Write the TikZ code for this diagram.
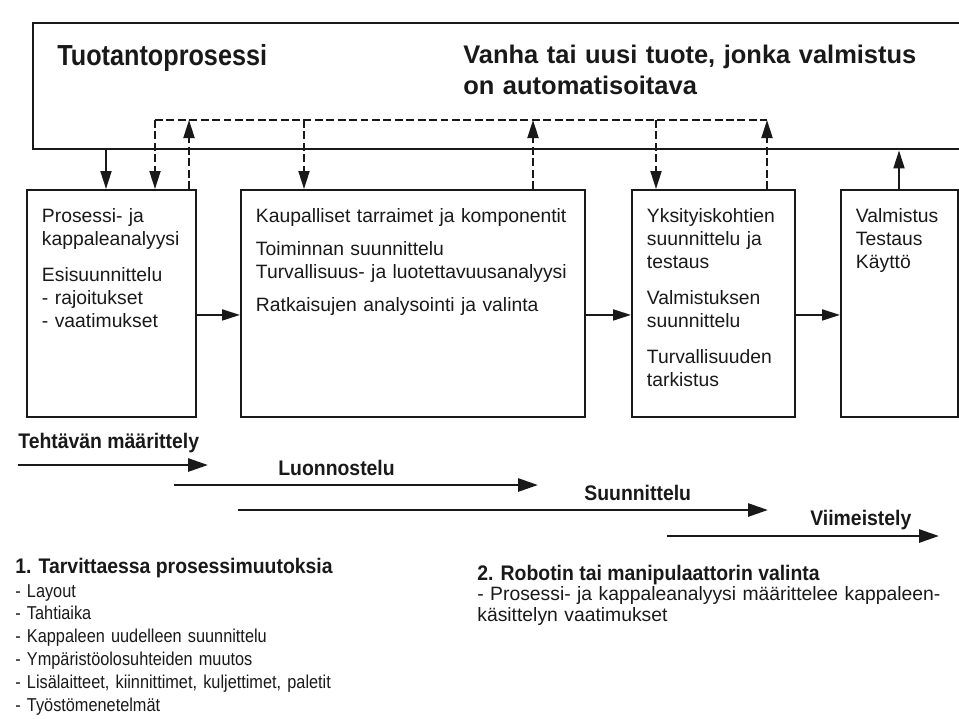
\documentclass[tikz,border=0pt]{standalone}
\usepackage{fontspec}
\setmainfont{Liberation Sans}
\newfontfamily\titlefam[FakeStretch=0.87]{Liberation Sans}
\newfontfamily\labelfam[FakeStretch=0.92]{Liberation Sans}
\newfontfamily\listfam[FakeStretch=0.875]{Liberation Sans}
\usepackage{tikz}
\usetikzlibrary{arrows.meta, positioning, calc}
\definecolor{ink}{RGB}{25,25,25}
\tikzset{
  procbox/.style={rectangle, draw=ink, line width=1.4pt,
    minimum width=19.16cm, minimum height=2.52cm, inner sep=0pt},
  stagebox/.style={rectangle, draw=ink, line width=1.1pt, align=left,
    inner xsep=0.3cm, inner ysep=0.36cm, text height=0.3cm, text depth=3.52cm,
    font=\fontsize{11}{13}\selectfont, text=ink},
  titlelbl/.style={font=\titlefam\bfseries\fontsize{16.5}{19}\selectfont,
    inner sep=0pt, text=ink},
  subjlbl/.style={font=\bfseries\fontsize{14.5}{17.6}\selectfont, align=left,
    text width=9.5cm, inner sep=0pt, text=ink},
  phaselbl/.style={font=\labelfam\bfseries\fontsize{12}{14}\selectfont,
    inner sep=0pt, text=ink},
  listtxt/.style={font=\listfam\fontsize{10.6}{13.04}\selectfont, align=left,
    text width=7cm, inner sep=0pt, text=ink},
  bodytxt/.style={font=\fontsize{11}{12.5}\selectfont, align=left,
    text width=9.6cm, inner sep=0pt, text=ink},
  arrow/.style={-{Triangle[length=3.6mm,width=2.2mm]}, line width=1.1pt, color=ink},
  dasharrow/.style={arrow, dash pattern=on 4.5pt off 2pt},
  dashline/.style={line width=1.1pt, color=ink, dash pattern=on 4.5pt off 2pt},
  phasearrow/.style={-{Triangle[length=4mm,width=2.6mm]}, line width=1.6pt, color=ink}
}
\begin{document}
\begin{tikzpicture}[x=0.02cm, y=-0.02cm]
  \useasboundingbox (0,0) rectangle (959,718);

  % production process (open to the right)
  \node[procbox, anchor=north west] (proc) at (32,22) {};
  \node[titlelbl, anchor=base west] (title) at (57,65) {Tuotantoprosessi};
  \node[subjlbl, anchor=base west] (subj) at (463,63.5)
    {Vanha tai uusi tuote, jonka valmistus\\on automatisoitava};

  % stages
  \node[stagebox, text width=2.78cm, anchor=north west] (s1) at (26,189)
    {Prosessi- ja\\kappaleanalyysi\\[0.26cm]Esisuunnittelu\\- rajoitukset\\- vaatimukset};
  \node[stagebox, text width=6.28cm, anchor=north west] (s2) at (240,189)
    {Kaupalliset tarraimet ja komponentit\\[0.2cm]Toiminnan suunnittelu\\Turvallisuus- ja luotettavuusanalyysi\\[0.2cm]Ratkaisujen analysointi ja valinta};
  \node[stagebox, text width=2.66cm, anchor=north west] (s3) at (631,189)
    {Yksityiskohtien\\suunnittelu ja\\testaus\\[0.26cm]Valmistuksen\\suunnittelu\\[0.26cm]Turvallisuuden\\tarkistus};
  \node[stagebox, text width=1.74cm, anchor=north west] (s4) at (840,189)
    {Valmistus\\Testaus\\Käyttö};

  \draw[arrow] ([yshift=-0.23cm]s1.east) -- ([yshift=-0.23cm]s2.west);
  \draw[arrow] ([yshift=-0.23cm]s2.east) -- ([yshift=-0.23cm]s3.west);
  \draw[arrow] ([yshift=-0.23cm]s3.east) -- ([yshift=-0.23cm]s4.west);

  % feedback
  \coordinate (busL) at (155,120);
  \coordinate (busR) at (767,120);
  \draw[dashline] (busL) -- (busR);
  \draw[arrow] (proc.south -| 106,0) -- (s1.north -| 106,0);
  \draw[dasharrow] (busL) -- (s1.north -| busL);
  \draw[dasharrow] (s1.north -| 189,0) -- (busL -| 189,0);
  \draw[dasharrow] (busL -| 304,0) -- (s2.north -| 304,0);
  \draw[dasharrow] (s2.north -| 533,0) -- (busL -| 533,0);
  \draw[dasharrow] (busL -| 656,0) -- (s3.north -| 656,0);
  \draw[dasharrow] (s3.north -| busR) -- (busR);
  \draw[arrow] (s4.north -| 899,0) -- (proc.south -| 899,0);

  % phases
  \coordinate (p1a) at (18,465);  \coordinate (p1b) at (208,465);
  \coordinate (p2a) at (174,485); \coordinate (p2b) at (538,485);
  \coordinate (p3a) at (238,510); \coordinate (p3b) at (768,510);
  \coordinate (p4a) at (667,536); \coordinate (p4b) at (939,536);
  \draw[phasearrow] (p1a) -- (p1b);
  \draw[phasearrow] (p2a) -- (p2b);
  \draw[phasearrow] (p3a) -- (p3b);
  \draw[phasearrow] (p4a) -- (p4b);
  \node[phaselbl, anchor=base west] (ph1) at (18,448) {Tehtävän määrittely};
  \node[phaselbl, anchor=base west] (ph2) at (278,475.5) {Luonnostelu};
  \node[phaselbl, anchor=base west] (ph3) at (584,500.5) {Suunnittelu};
  \node[phaselbl, anchor=base west] (ph4) at (810,525.5) {Viimeistely};

  % notes
  \node[phaselbl, anchor=base west] (n1) at (15,573) {1. Tarvittaessa prosessimuutoksia};
  \node[listtxt, anchor=base west] (n1list) at (15,597)
    {- Layout\\- Tahtiaika\\- Kappaleen uudelleen suunnittelu\\- Ympäristöolosuhteiden muutos\\- Lisälaitteet, kiinnittimet, kuljettimet, paletit\\- Työstömenetelmät};
  \node[phaselbl, anchor=base west] (n2) at (477,580) {2. Robotin tai manipulaattorin valinta};
  \node[bodytxt, anchor=base west] (n2txt) at (477,600)
    {- Prosessi- ja kappaleanalyysi määrittelee kappaleen-\\käsittelyn vaatimukset};
\end{tikzpicture}
\end{document}
